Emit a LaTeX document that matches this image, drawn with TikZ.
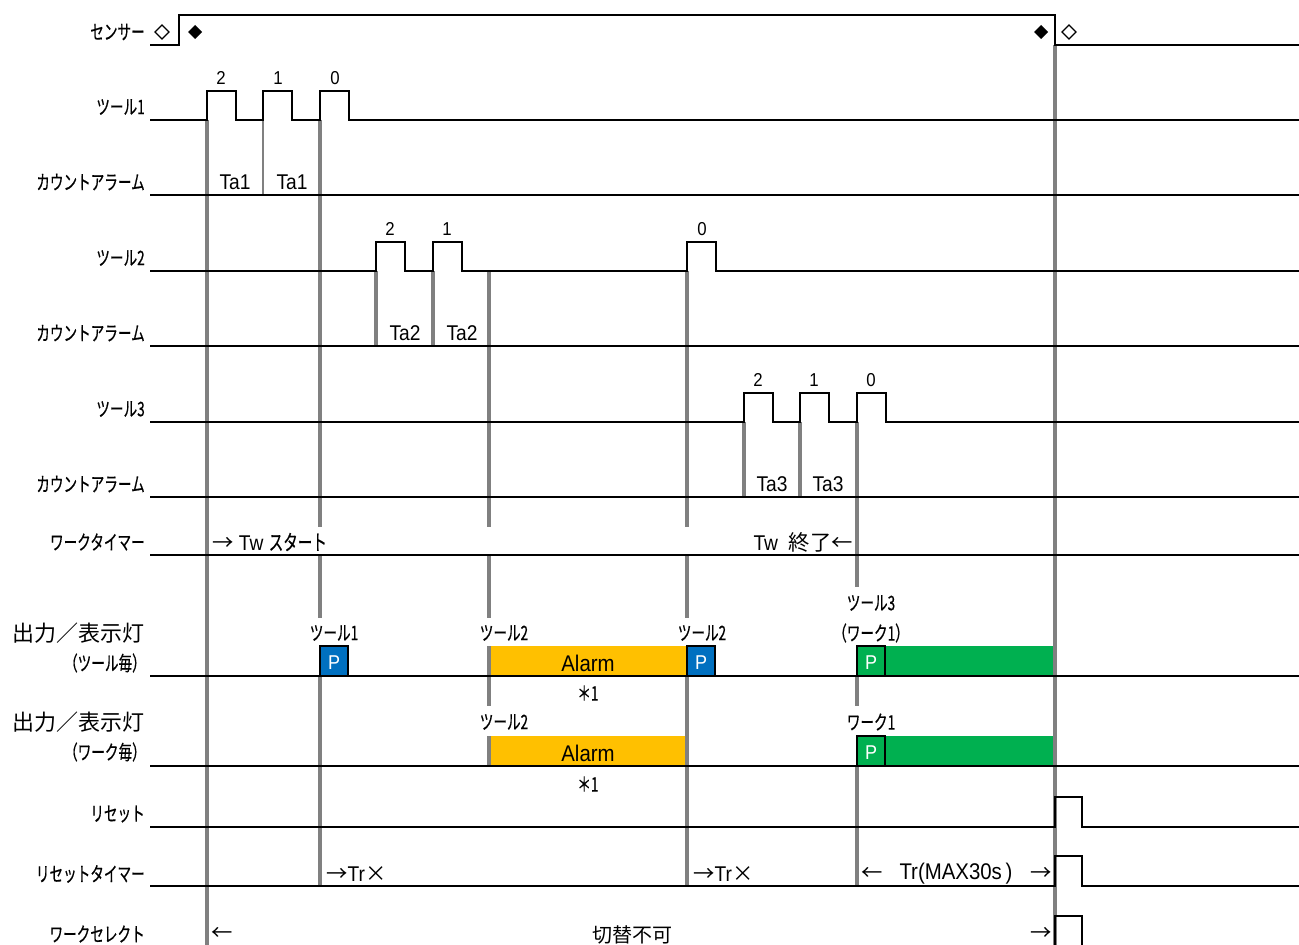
\documentclass[tikz,border=0pt]{standalone}
\usepackage{fontspec}
\setmainfont{Liberation Sans}[FakeStretch=0.9]
\newfontfamily\jpn{Noto Sans CJK JP}[FakeStretch=0.68,FakeBold=0.5]
\newfontfamily\jpw{Noto Sans CJK JP}
\definecolor{pblue}{HTML}{0070C0}
\definecolor{ayellow}{HTML}{FFC000}
\definecolor{pgreen}{HTML}{00B050}
\definecolor{guidegray}{HTML}{808080}

\begin{document}
\begin{tikzpicture}[x=0.75pt,y=0.75pt,yscale=-1,xscale=1,
  sig/.style={line width=1.7pt},
  guide/.style={draw=guidegray,line width=2.3pt},
  lbl/.style={anchor=east,inner sep=0.75pt,font=\jpn\fontsize{15}{17}\selectfont},
  big/.style={anchor=east,inner sep=0.75pt,font=\jpw\fontsize{16.5}{18}\selectfont},
  jtxt/.style={inner sep=0.75pt,font=\jpn\fontsize{15}{17}\selectfont},
  num/.style={inner sep=0.75pt,font=\fontsize{14}{16}\selectfont},
  ta/.style={inner sep=0.75pt,font=\fontsize{16}{18}\selectfont},
  ptxt/.style={inner sep=0.75pt,text=white,font=\fontsize{15}{17}\selectfont},
  pbox/.style={line width=1.7pt}]

\useasboundingbox (0,0) rectangle (1299,945);

% fills of the output rows
\fill [ayellow] (489,646) rectangle (686,676) ;
\fill [ayellow] (489,736) rectangle (686,766) ;
\fill [pgreen] (857,646) rectangle (1055,676) ;
\fill [pgreen] (857,736) rectangle (1055,766) ;
\fill [pblue] (320,646) rectangle (348,676) ;
\fill [pblue] (687,646) rectangle (715,676) ;

% timing guides
\draw [guide] (207,120) -- (207,945) ;
\draw [guide,line width=1.5pt] (263,120) -- (263,195) ;
\draw [guide] (320,120) -- (320,527) (320,555) -- (320,618) (320,676) -- (320,886) ;
\draw [guide] (376,271) -- (376,346) ;
\draw [guide] (433,271) -- (433,346) ;
\draw [guide] (489,271) -- (489,527) (489,555) -- (489,618) (489,646) -- (489,706) (489,736) -- (489,766) ;
\draw [guide] (687,271) -- (687,527) (687,555) -- (687,618) (687,676) -- (687,886) ;
\draw [guide] (744,422) -- (744,497) ;
\draw [guide] (800,422) -- (800,497) ;
\draw [guide] (857,422) -- (857,587) (857,676) -- (857,706) (857,766) -- (857,886) ;
\draw [guide] (1055,45) -- (1055,945) ;

% signals
\draw [sig] (150,45) -- (179,45) -- (179,15) -- (1055,15) -- (1055,45) -- (1299,45) ;
\draw [sig] (150,120) -- (207,120) -- (207,91) -- (236,91) -- (236,120) -- (263,120) -- (263,91) -- (292,91) -- (292,120) -- (320,120) -- (320,91) -- (349,91) -- (349,120) -- (1299,120) ;
\draw [sig] (150,195) -- (1299,195) ;
\draw [sig] (150,271) -- (376,271) -- (376,242) -- (405,242) -- (405,271) -- (433,271) -- (433,242) -- (462,242) -- (462,271) -- (687,271) -- (687,242) -- (716,242) -- (716,271) -- (1299,271) ;
\draw [sig] (150,346) -- (1299,346) ;
\draw [sig] (150,422) -- (744,422) -- (744,393) -- (773,393) -- (773,422) -- (800,422) -- (800,393) -- (829,393) -- (829,422) -- (857,422) -- (857,393) -- (886,393) -- (886,422) -- (1299,422) ;
\draw [sig] (150,497) -- (1299,497) ;
\draw [sig] (150,555) -- (1299,555) ;
\draw [sig] (150,676) -- (1299,676) ;
\draw [sig] (150,766) -- (1299,766) ;
\draw [sig] (150,827) -- (1055,827) -- (1055,797) -- (1082,797) -- (1082,827) -- (1299,827) ;
\draw [sig] (150,886) -- (1055,886) -- (1055,856) -- (1082,856) -- (1082,886) -- (1299,886) ;
\draw [sig] (1055,945) -- (1055,916) -- (1082,916) -- (1082,945) ;

% P boxes
\draw [pbox] (320,676) -- (320,646) -- (348,646) -- (348,676) ;
\draw [pbox] (687,676) -- (687,646) -- (715,646) -- (715,676) ;
\draw [pbox] (857,676) -- (857,646) -- (885,646) -- (885,676) ;
\draw [pbox] (857,766) -- (857,736) -- (885,736) -- (885,766) ;

% sensor marks
\draw [line width=0.9pt] (155,32) -- (162,25) -- (169,32) -- (162,39) -- cycle ;
\fill (188,32) -- (195,25) -- (202,32) -- (195,39) -- cycle ;
\fill (1034,32) -- (1041,25) -- (1048,32) -- (1041,39) -- cycle ;
\draw [line width=0.9pt] (1062,32) -- (1069,25) -- (1076,32) -- (1069,39) -- cycle ;

% row labels
\draw (146,32) node [lbl] (lsensor) {センサー};
\draw (146,107) node [lbl] (ltool1) {ツール1};
\draw (146,182) node [lbl] (lalarm1) {カウントアラーム};
\draw (146,258) node [lbl] (ltool2) {ツール2};
\draw (146,333) node [lbl] (lalarm2) {カウントアラーム};
\draw (146,409) node [lbl] (ltool3) {ツール3};
\draw (146,484) node [lbl] (lalarm3) {カウントアラーム};
\draw (146,542) node [lbl] (lwtimer) {ワークタイマー};
\draw (146,633) node [big] (lout1) {出力／表示灯};
\draw (147,663) node [lbl] (lout1b) {（ツール毎）};
\draw (146,722) node [big] (lout2) {出力／表示灯};
\draw (147,752) node [lbl] (lout2b) {（ワーク毎）};
\draw (146,814) node [lbl] (lreset) {リセット};
\draw (146,874) node [lbl] (lrtimer) {リセットタイマー};
\draw (146,934) node [lbl] (lwsel) {ワークセレクト};

% counts
\draw (221,78) node [num] (c12) {2};
\draw (278,78) node [num] (c11) {1};
\draw (335,78) node [num] (c10) {0};
\draw (390,229) node [num] (c22) {2};
\draw (447,229) node [num] (c21) {1};
\draw (702,229) node [num] (c20) {0};
\draw (758,380) node [num] (c32) {2};
\draw (814,380) node [num] (c31) {1};
\draw (871,380) node [num] (c30) {0};
\draw (235,182) node [ta] (ta1a) {Ta1};
\draw (292,182) node [ta] (ta1b) {Ta1};
\draw (405,333) node [ta] (ta2a) {Ta2};
\draw (462,333) node [ta] (ta2b) {Ta2};
\draw (772,484) node [ta] (ta3a) {Ta3};
\draw (828,484) node [ta] (ta3b) {Ta3};

% work timer
\draw (211,542) node [anchor=west,ta] (twstart) {{\jpw →} Tw {\jpn スタート}};
\draw (854,542) node [anchor=east,ta] (twend) {Tw\ \ {\jpw 終了←}};

% outputs
\draw (334,633) node [jtxt] (o1tool1) {ツール1};
\draw (504,633) node [jtxt] (o1tool2a) {ツール2};
\draw (702,633) node [jtxt] (o1tool2b) {ツール2};
\draw (871,603) node [jtxt] (o1tool3) {ツール3};
\draw (871,633) node [jtxt] (o1work) {（ワーク1）};
\draw (334,663) node [ptxt] (p1) {P};
\draw (701,663) node [ptxt] (p2) {P};
\draw (871,663) node [ptxt] (p3) {P};
\draw (588,663) node [ta,font=\fontsize{17}{19}\selectfont] (alarm1) {Alarm};
\draw (588,693) node [jtxt] (note1) {＊1};
\draw (504,722) node [jtxt] (o2tool2) {ツール2};
\draw (871,722) node [jtxt] (o2work) {ワーク1};
\draw (871,753) node [ptxt] (p4) {P};
\draw (588,753) node [ta,font=\fontsize{17}{19}\selectfont] (alarm2) {Alarm};
\draw (588,784) node [jtxt] (note2) {＊1};

% reset timer
\draw (325,874) node [anchor=west,ta] (tr1) {{\jpw →}Tr{\jpw ×}};
\draw (692,874) node [anchor=west,ta] (tr2) {{\jpw →}Tr{\jpw ×}};
\draw (872,874) node [ta] (trl) {{\jpw ←}};
\draw (956,874) node [ta,font=\fontsize{17}{19}\selectfont] (trmax) {Tr(MAX30s\,)};
\draw (1041,874) node [ta] (trr) {{\jpw →}};

% work select
\draw (222,934) node [ta] (wsl) {{\jpw ←}};
\draw (632,935) node [inner sep=0.75pt,font=\jpw\fontsize{15}{17}\selectfont] (wsno) {切替不可};
\draw (1041,934) node [ta] (wsr) {{\jpw →}};

\end{tikzpicture}
\end{document}
